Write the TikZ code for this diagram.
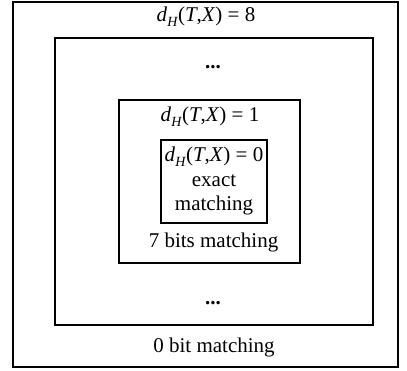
\documentclass[tikz,border=0pt]{standalone}
\usepackage{fontspec}
\setmainfont{Liberation Serif}
\begin{document}
\begin{tikzpicture}[x=1pt,y=-1pt,
  frame/.style={draw,line width=1.2pt},
  lbl/.style={font=\fontsize{21}{24}\selectfont,inner sep=0pt,anchor=center}]
\useasboundingbox (0,0) rectangle (407,371);
\newcommand{\dham}[1]{\textit{d}\raisebox{-0.25em}{\fontsize{14}{16}\selectfont\textit{H}}(\textit{T},\textit{X}) = #1}
% nested regions, outermost first
\draw[frame] (13,2) rectangle (398,367);
\draw[frame] (55,38) rectangle (373,325);
\draw[frame] (119,100) rectangle (300,263);
\draw[frame] (161,140) rectangle (267,223);
% labels
\node[lbl] (l8) at (206,17) {\dham{8}};
\node[lbl] (d1) at (213,67) {\textbf{...}};
\node[lbl] (l1) at (210,117) {\dham{1}};
\node[lbl] (l0) at (214,157) {\dham{0}};
\node[lbl] (ex) at (214,181) {exact};
\node[lbl] (ma) at (214,205) {matching};
\node[lbl] (b7) at (213.5,242) {7 bits matching};
\node[lbl] (d2) at (213,303) {\textbf{...}};
\node[lbl] (b0) at (214,347) {0 bit matching};
\end{tikzpicture}
\end{document}
